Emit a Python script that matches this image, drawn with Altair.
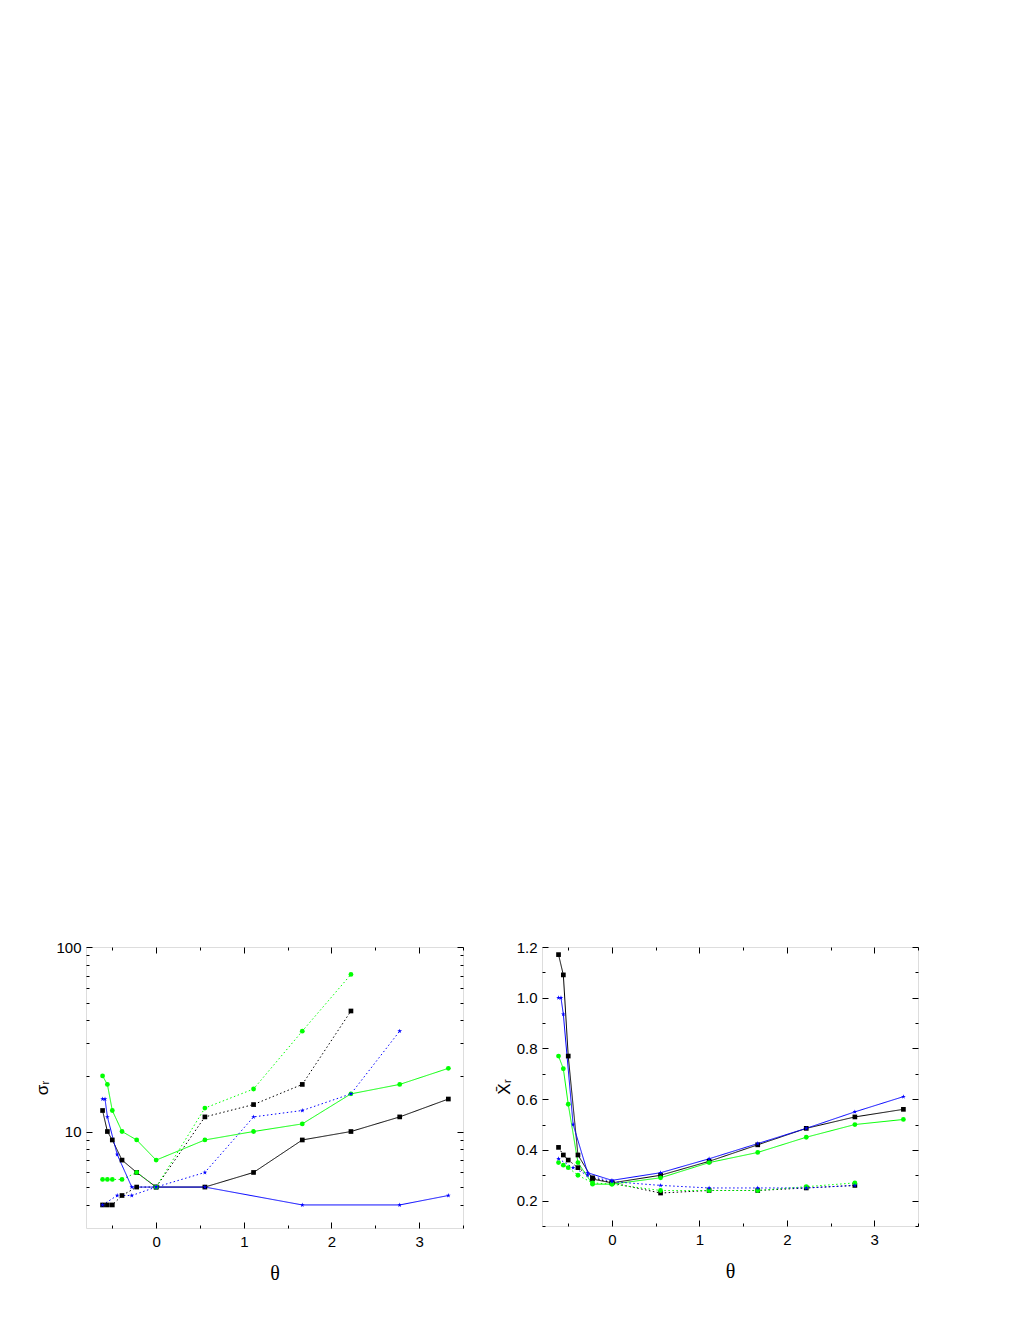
import altair as alt
import pandas as pd

# theta grids
th = [-0.611, -0.556, -0.5, -0.389, -0.222, 0.0, 0.556, 1.111, 1.667, 2.222, 2.778, 3.333]
th_blue_solid_L = [-0.611, -0.583, -0.556, -0.444, -0.278, 0.0, 0.556, 1.667, 2.778, 3.333]
th_blue_solid_R = [-0.611, -0.583, -0.556, -0.444, -0.278, 0.0, 0.556, 1.111, 1.667, 2.222, 2.778, 3.333]
th_blue_dot = [-0.611, -0.444, -0.278, 0.0, 0.556, 1.111, 1.667, 2.222, 2.778]

# Left panel: sigma_r (log scale)
sig_black_solid = [13, 10, 9, 7, 6, 5, 5, 6, 9, 10, 12, 15]
sig_black_dot = [4, 4, 4, 4.5, 5, 5, 12, 14, 18, 45]
sig_green_solid = [20, 18, 13, 10, 9, 7, 9, 10, 11, 16, 18, 22]
sig_green_dot = [5.5, 5.5, 5.5, 5.5, 6, 5, 13.4, 17, 35, 71]
sig_blue_solid = [15, 15, 12, 7.5, 5, 5, 5, 4, 4, 4.5]
sig_blue_dot = [4, 4.5, 4.5, 5, 6, 12, 13, 16, 35]

# Right panel: mean X_r
xr_black_solid = [1.17, 1.09, 0.77, 0.38, 0.285, 0.27, 0.30, 0.355, 0.42, 0.485, 0.53, 0.56]
xr_black_dot = [0.41, 0.38, 0.36, 0.33, 0.29, 0.27, 0.23, 0.24, 0.24, 0.25, 0.26]
xr_green_solid = [0.77, 0.72, 0.58, 0.35, 0.265, 0.265, 0.29, 0.35, 0.39, 0.45, 0.50, 0.52]
xr_green_dot = [0.35, 0.34, 0.33, 0.30, 0.27, 0.265, 0.24, 0.24, 0.24, 0.255, 0.27]
xr_blue_solid = [1.0, 1.0, 0.935, 0.5, 0.31, 0.28, 0.31, 0.365, 0.425, 0.485, 0.55, 0.61]
xr_blue_dot = [0.365, 0.33, 0.30, 0.275, 0.26, 0.25, 0.25, 0.25, 0.26]

STAR = ("M0,-1L0.225,-0.309L0.951,-0.309L0.363,0.118L0.588,0.809L0,0.382"
        "L-0.588,0.809L-0.363,0.118L-0.951,-0.309L-0.225,-0.309Z")

series_names = ["black", "green", "blue"]
series_colors = ["#000000", "#00ff00", "#0000ff"]
series_shapes = ["square", "circle", STAR]
series_sizes = [22, 24, 95]


def build(parts):
    rows = []
    for color, style, xs, ys in parts:
        for x, y in zip(xs, ys):
            rows.append({"theta": x, "val": y, "series": color, "style": style,
                         "key": color + "_" + style})
    return pd.DataFrame(rows)


df_L = build([
    ("black", "solid", th, sig_black_solid),
    ("black", "dotted", th, sig_black_dot),
    ("green", "solid", th, sig_green_solid),
    ("green", "dotted", th, sig_green_dot),
    ("blue", "solid", th_blue_solid_L, sig_blue_solid),
    ("blue", "dotted", th_blue_dot, sig_blue_dot),
])
df_R = build([
    ("black", "solid", th, xr_black_solid),
    ("black", "dotted", th, xr_black_dot),
    ("green", "solid", th, xr_green_solid),
    ("green", "dotted", th, xr_green_dot),
    ("blue", "solid", th_blue_solid_R, xr_blue_solid),
    ("blue", "dotted", th_blue_dot, xr_blue_dot),
])

x_major = [0, 1, 2, 3]
x_minor = [-0.5, 0.5, 1.5, 2.5, 3.5]
yL_major = [10, 100]
yL_minor = [4, 5, 6, 7, 8, 9, 20, 30, 40, 50, 60, 70, 80, 90]
yR_major = [0.2, 0.4, 0.6, 0.8, 1.0, 1.2]
yR_minor = [0.1, 0.3, 0.5, 0.7, 0.9, 1.1]

LABEL_FONT = "Liberation Sans"
MAJ = 6
MIN = 3


def ax(orient, values, size, labels=False, title=None, fmt=None, title_font=LABEL_FONT,
       title_size=17, title_pad=4, label_pad=5):
    kw = dict(orient=orient, values=values, tickSize=size, offset=-size, domain=False,
              grid=False, ticks=True, tickColor="black", tickWidth=1, labels=labels)
    if labels:
        kw.update(labelFont=LABEL_FONT, labelFontSize=15, labelColor="black",
                  labelPadding=label_pad, labelFlush=False, labelOverlap=False)
        if fmt:
            kw["format"] = fmt
    if title:
        kw.update(title=title, titleFont=title_font, titleFontSize=title_size, titleColor="black",
                  titleFontWeight="normal", titlePadding=title_pad)
    else:
        kw["title"] = None
    return alt.Axis(**kw)


def panel(df, yscale, ymaj, ymin, yfmt, ytitle, w, h, ytitle_pad):
    xs = alt.Scale(domain=[-0.8, 3.5], nice=False, zero=False)
    base = alt.Chart(df)
    col = alt.Color("series:N", scale=alt.Scale(domain=series_names, range=series_colors), legend=None)
    lines = base.mark_line(strokeWidth=1).encode(
        x=alt.X("theta:Q", scale=xs, axis=None),
        y=alt.Y("val:Q", scale=yscale, axis=None),
        color=col,
        strokeDash=alt.StrokeDash("style:N", scale=alt.Scale(domain=["solid", "dotted"],
                                                             range=[[1, 0], [1.5, 2.5]]), legend=None),
        detail="key:N",
    )
    pts = base.mark_point(filled=True, opacity=1).encode(
        x=alt.X("theta:Q", scale=xs, axis=None),
        y=alt.Y("val:Q", scale=yscale, axis=None),
        color=col,
        shape=alt.Shape("series:N", scale=alt.Scale(domain=series_names, range=series_shapes), legend=None),
        size=alt.Size("series:N", scale=alt.Scale(domain=series_names, range=series_sizes), legend=None),
    )
    ghost = base.mark_point(opacity=0)
    a1 = ghost.encode(
        x=alt.X("theta:Q", scale=xs, axis=ax("bottom", x_major, MAJ, labels=True, title="θ",
                                               fmt="d", title_font="Liberation Serif", title_size=20,
                                               title_pad=14, label_pad=6)),
        y=alt.Y("val:Q", scale=yscale, axis=ax("left", ymaj, MAJ, labels=True, title=ytitle,
                                                 fmt=yfmt, title_pad=ytitle_pad, label_pad=5)),
    )
    a2 = ghost.encode(
        x=alt.X("theta:Q", scale=xs, axis=ax("bottom", x_minor, MIN)),
        y=alt.Y("val:Q", scale=yscale, axis=ax("left", ymin, MIN)),
    )
    a3 = ghost.encode(
        x=alt.X("theta:Q", scale=xs, axis=ax("top", x_major, MAJ)),
        y=alt.Y("val:Q", scale=yscale, axis=ax("right", ymaj, MAJ)),
    )
    a4 = ghost.encode(
        x=alt.X("theta:Q", scale=xs, axis=ax("top", x_minor, MIN)),
        y=alt.Y("val:Q", scale=yscale, axis=ax("right", ymin, MIN)),
    )
    return alt.layer(lines, pts, a1, a2, a3, a4).resolve_axis(
        x="independent", y="independent").properties(width=w, height=h)


left = panel(df_L, alt.Scale(type="log", domain=[3, 100], nice=False), yL_major, yL_minor, "d",
             "σᵣ", 377, 281, 4)
right = panel(df_R, alt.Scale(domain=[0.1, 1.2], nice=False, zero=False), yR_major, yR_minor, ".1f",
              "X̄ᵣ", 376, 279, 3)

chart = alt.hconcat(left, right, spacing=30).properties(
    padding={"top": 931, "left": 25, "right": 5, "bottom": 5}
).configure_view(stroke="black", strokeWidth=1).configure(background="white")

chart.save("out.html", embed_options={"renderer": "svg", "actions": False})
